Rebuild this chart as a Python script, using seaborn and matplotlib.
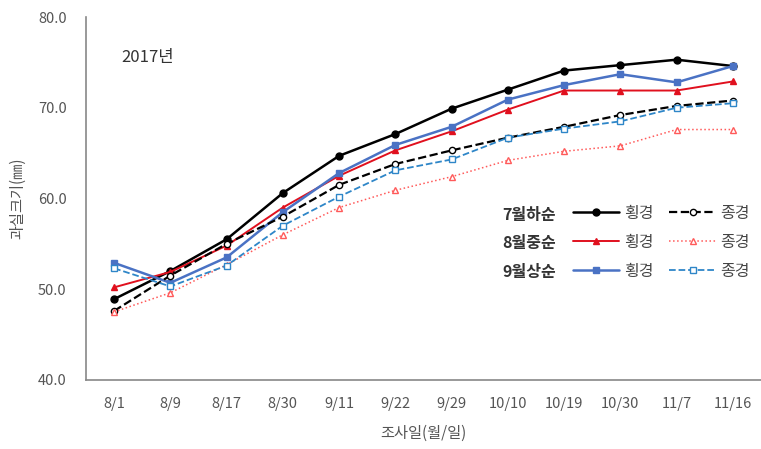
import pandas as pd
import seaborn as sns
import matplotlib.pyplot as plt
from matplotlib.lines import Line2D

dates = ["8/1", "8/9", "8/17", "8/30", "9/11", "9/22", "9/29", "10/10", "10/19", "10/30", "11/7", "11/16"]

jul_w = [48.9, 52.0, 55.5, 60.6, 64.7, 67.1, 69.9, 72.0, 74.1, 74.7, 75.3, 74.6]
jul_l = [47.6, 51.5, 55.0, 58.0, 61.5, 63.8, 65.3, 66.7, 67.9, 69.2, 70.2, 70.8]
aug_w = [50.2, 51.9, 54.8, 59.0, 62.5, 65.3, 67.4, 69.8, 71.9, 71.9, 71.9, 72.9]
aug_l = [47.5, 49.6, 52.7, 56.0, 59.0, 60.9, 62.4, 64.2, 65.2, 65.8, 67.6, 67.6]
sep_w = [52.9, 50.7, 53.5, 58.5, 62.8, 65.9, 67.9, 70.9, 72.5, 73.7, 72.8, 74.6]
sep_l = [52.3, 50.3, 52.6, 57.0, 60.2, 63.1, 64.3, 66.7, 67.7, 68.5, 70.0, 70.5]

groups = ["7월하순", "8월중순", "9월상순"]

sns.set_theme(style="white")
plt.rcParams["font.family"] = ["Noto Sans CJK KR", "DejaVu Sans"]

fig = plt.figure(figsize=(7.61, 4.49), dpi=100)
ax = fig.add_axes([0.113, 0.154, 0.887, 0.808])

# (values, color, linestyle, linewidth, marker, filled)
series = [
    (jul_w, "black", "-", 1.8, "o", True),
    (aug_w, "#e0101e", "-", 1.4, "^", True),
    (sep_w, "#4a72c4", "-", 1.8, "s", True),
    (jul_l, "black", "--", 1.6, "o", False),
    (aug_l, "#ff5a5a", ":", 1.1, "^", False),
    (sep_l, "#2e86c8", "--", 1.3, "s", False),
]

handles = []
for vals, c, ls, lw, mk, filled in series:
    df = pd.DataFrame({"date": dates, "size": vals})
    face = c if filled else "white"
    ms = 5 if filled else 4.5
    sns.lineplot(data=df, x="date", y="size", ax=ax, color=c, linestyle=ls,
                 linewidth=lw, marker=mk, markersize=ms, markerfacecolor=face,
                 markeredgecolor=c, markeredgewidth=1.0, sort=False)
    handles.append(Line2D([], [], color=c, linestyle=ls, linewidth=lw, marker=mk,
                          markersize=ms, markerfacecolor=face, markeredgecolor=c))

ax.set_xlim(-0.5, len(dates) - 0.5)
ax.set_ylim(40, 80)
ax.set_yticks([40, 50, 60, 70, 80])
ax.set_yticklabels([f"{v:.1f}" for v in [40, 50, 60, 70, 80]])
ax.tick_params(axis="both", labelsize=10.5, colors="#555555", length=0)
ax.tick_params(axis="y", pad=14)
ax.tick_params(axis="x", pad=12)
ax.set_xlabel("조사일(월/일)", fontsize=11, color="#555555", labelpad=10)
ax.set_ylabel("과실크기(㎜)", fontsize=11, color="#555555", labelpad=8)
for s in ["top", "right"]:
    ax.spines[s].set_visible(False)
for s in ["left", "bottom"]:
    ax.spines[s].set_color("#888888")
    ax.spines[s].set_linewidth(1.2)

ax.text(0.052, 0.875, "2017년", transform=ax.transAxes, fontsize=12, color="#333333")

leg = ax.legend(handles=handles, labels=["횡경"] * 3 + ["종경"] * 3, ncol=2,
                loc="upper left", bbox_to_anchor=(0.70, 0.522), frameon=False,
                fontsize=11.5, handlelength=2.9, handletextpad=0.3, columnspacing=1.0,
                labelspacing=0.75)
for t in leg.get_texts():
    t.set_color("#444444")

for i, g in enumerate(groups):
    ax.text(0.617, 0.455 - i * 0.079, g, transform=ax.transAxes, fontsize=11.5,
            color="#333333", fontweight="bold", va="center")

fig.savefig("out.png", dpi=100)
